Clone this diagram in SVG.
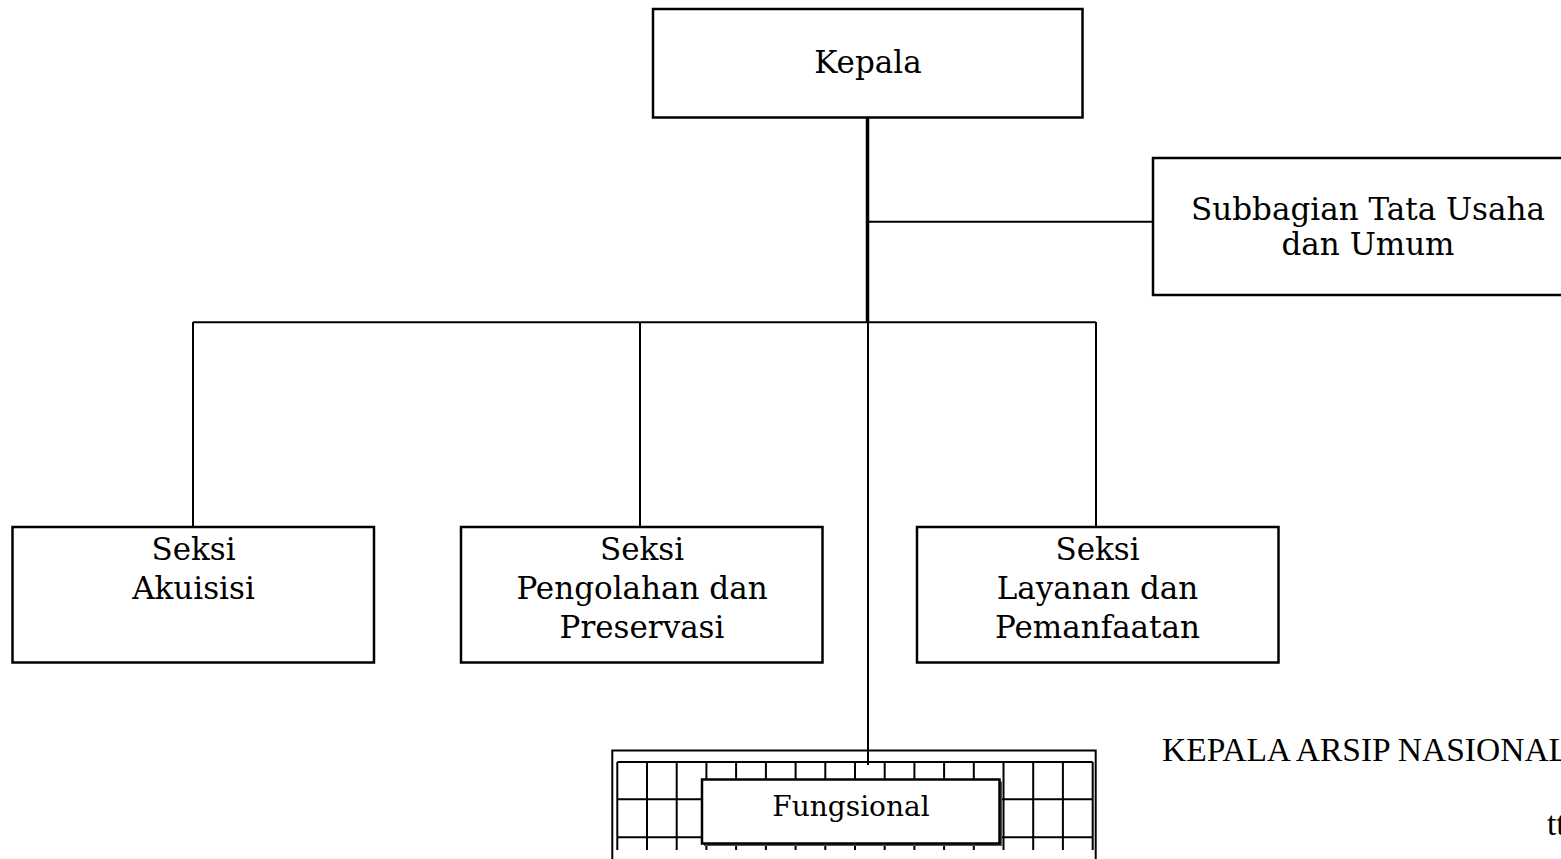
<svg xmlns="http://www.w3.org/2000/svg" width="1561" height="859" viewBox="0 0 1561 859">
<style>
.box{fill:#fff;stroke:#000;stroke-width:2.5}
.ln{fill:none;stroke:#000;stroke-width:2}
.t{font-family:"DejaVu Serif",serif;font-size:31px;fill:#000;text-anchor:middle}
.s{font-family:"Liberation Serif",serif;font-size:33.5px;fill:#000}
</style>
<rect width="1561" height="859" fill="#fff"/>
<g id="connectors">
<line x1="867.5" y1="117" x2="867.5" y2="323" stroke="#000" stroke-width="3.5"/>
<path class="ln" d="M868 322V765M869 221.7H1153M193 322.3H1096M193 322V527M640 322V527M1096 322V527"/>
</g>
<g id="kepala">
<rect class="box" x="653" y="9" width="429.5" height="108.5"/>
<text class="t" x="868" y="73">Kepala</text>
</g>
<g id="subbagian">
<rect class="box" x="1153" y="158" width="420" height="137"/>
<text class="t" x="1368" y="220">Subbagian Tata Usaha</text>
<text class="t" x="1368" y="255">dan Umum</text>
</g>
<g id="akuisisi">
<rect class="box" x="12.5" y="527" width="361.5" height="135.5"/>
<text class="t" x="193.5" y="560">Seksi</text>
<text class="t" x="193.5" y="599">Akuisisi</text>
</g>
<g id="pengolahan">
<rect class="box" x="461" y="527" width="361.5" height="135.5"/>
<text class="t" x="642" y="560">Seksi</text>
<text class="t" x="642" y="599">Pengolahan dan</text>
<text class="t" x="642" y="638">Preservasi</text>
</g>
<g id="layanan">
<rect class="box" x="917" y="527" width="361.5" height="135.5"/>
<text class="t" x="1097.5" y="560">Seksi</text>
<text class="t" x="1097.5" y="599">Layanan dan</text>
<text class="t" x="1097.5" y="638">Pemanfaatan</text>
</g>
<g id="fungsional">
<path class="ln" d="M612.3 860V750.5H1095.7V860"/>
<path class="ln" d="M617.3 762H1092.7M617.3 799.3H1092.7M617.3 837.3H1092.7M617.3 762V850M647 762V850M676.7 762V850M706.4 762V850M736.1 762V850M765.9 762V850M795.6 762V850M825.3 762V850M855 762V850M884.7 762V850M914.4 762V850M944.1 762V850M973.8 762V850M1003.5 762V850M1033.2 762V850M1062.9 762V850M1092.7 762V850"/>
<rect x="704" y="781.5" width="298" height="64.5" fill="#555"/>
<rect class="box" x="702" y="779.5" width="297.5" height="64" stroke-width="2"/>
<text class="t" x="851" y="816" style="font-size:28px">Fungsional</text>
</g>
<g id="signature">
<text class="s" x="1162" y="761">KEPALA ARSIP NASIONAL</text>
<text class="s" x="1547" y="835">tt</text>
</g>
</svg>
